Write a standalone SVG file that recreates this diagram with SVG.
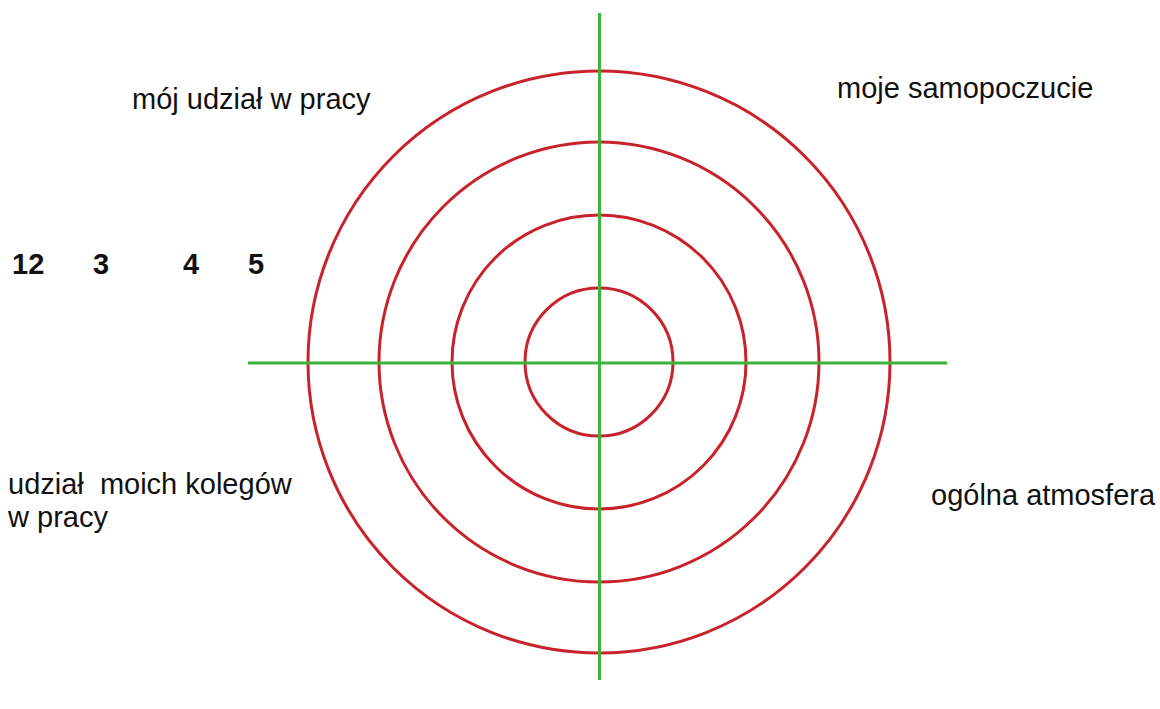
<svg xmlns="http://www.w3.org/2000/svg" width="1160" height="709" viewBox="0 0 1160 709">
<style>
.ring{fill:none;stroke:#c8232b;stroke-width:3}
.axis{stroke:#3cb43c;stroke-width:3}
.t{font-family:"Liberation Sans",Arial,sans-serif;font-size:29px;fill:#111}
.n{font-family:"Liberation Sans",Arial,sans-serif;font-size:29px;font-weight:bold;fill:#111}
</style>
<rect width="1160" height="709" fill="#fff"/>
<g id="rings">
<circle id="ring1" class="ring" cx="599" cy="362" r="74"/>
<circle id="ring2" class="ring" cx="599" cy="362" r="147"/>
<circle id="ring3" class="ring" cx="599" cy="362" r="220"/>
<circle id="ring4" class="ring" cx="599" cy="362" r="291"/>
</g>
<g id="connectors">
<line class="axis" x1="599.5" y1="13" x2="599.5" y2="680"/>
<line class="axis" x1="248" y1="363" x2="947" y2="363"/>
</g>
<g id="labels">
<text class="t" x="132" y="109">mój udział w pracy</text>
<text class="t" x="837" y="98">moje samopoczucie</text>
<text class="n" x="12" y="274">12</text>
<text class="n" x="93" y="274">3</text>
<text class="n" x="183" y="274">4</text>
<text class="n" x="248" y="274">5</text>
<text class="t" x="8" y="494" xml:space="preserve">udział  moich kolegów</text>
<text class="t" x="8" y="527">w pracy</text>
<text class="t" x="931" y="505">ogólna atmosfera</text>
</g>
</svg>
